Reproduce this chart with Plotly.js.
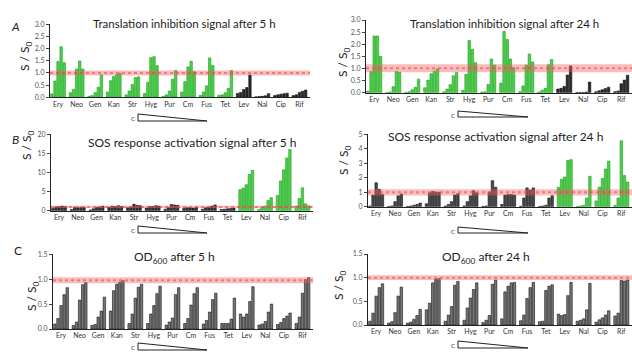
<!DOCTYPE html>
<html><head><meta charset="utf-8">
<script src="https://cdn.plot.ly/plotly-3.0.1.min.js"></script>
<style>html,body{margin:0;padding:0;background:#fff}</style>
</head><body><div id="chart" style="width:632px;height:355px"></div>
<script>
const groups = ['Ery','Neo','Gen','Kan','Str','Hyg','Pur','Cm','Fus','Tet','Lev','Nal','Cip','Rif'];

const transl5h = [
 [0.14,0.67,1.47,2.08,1.42],[0.19,0.33,1.16,1.49,1.16],[0.04,0.07,0.19,0.41,0.92],
 [0.22,0.68,0.85,0.93,0.99],[0.10,0.26,0.53,0.81,0.84],[0.16,0.62,1.63,1.67,1.30],
 [0.04,0.10,0.26,0.74,1.10],[0.22,0.64,1.25,1.48,1.05],[0.08,0.22,0.47,1.62,1.31],
 [0.08,0.10,0.19,0.37,1.10],[0.16,0.20,0.32,0.40,0.92],[0.02,0.03,0.04,0.06,0.15],
 [0.07,0.10,0.13,0.15,0.17],[0.07,0.10,0.20,0.25,0.30]];
const transl24h = [
 [0.07,0.87,2.34,2.34,1.50],[0.01,0.03,0.25,0.87,0.84],[0.01,0.04,0.12,0.22,0.56],
 [0.20,0.52,0.78,0.88,0.98],[0.04,0.15,0.33,0.70,0.83],[0.10,0.76,2.15,1.79,1.24],
 [0.03,0.04,0.34,1.39,1.14],[0.40,2.53,2.20,1.39,1.03],[0.04,0.28,1.14,1.60,1.27],
 [0.03,0.10,0.18,1.15,1.37],[0.15,0.18,0.26,0.73,1.10],[0.01,0.01,0.01,0.03,0.44],
 [0.04,0.08,0.12,0.17,0.23],[0.04,0.07,0.37,0.52,0.72]];
const sos5h = [
 [0.6,1.0,1.1,1.2,1.1],[0.3,0.9,0.8,0.9,0.9],[0.2,0.5,0.9,1.0,1.2],
 [0.9,1.2,1.1,1.3,1.1],[0.8,1.0,1.7,1.4,1.3],[0.7,1.1,1.1,1.3,1.2],
 [0.4,0.8,1.6,1.5,1.4],[0.6,0.8,0.8,0.7,0.9],[0.4,0.8,0.9,1.2,1.5],
 [0.3,0.4,0.5,0.6,0.7],[5.5,5.9,6.8,9.5,10.6],[0.3,0.8,1.2,2.7,3.4],
 [4.0,7.8,10.7,13.8,16.0],[1.2,3.2,6.0,1.8,1.3]];
const sos24h = [
 [0.05,0.8,1.65,1.2,0.85],[0.02,0.05,0.35,0.75,0.88],[0.02,0.05,0.1,0.15,0.25],
 [0.2,0.95,1.05,1.0,1.0],[0.05,0.15,0.35,0.8,0.9],[0.05,0.35,0.75,1.1,0.95],
 [0.03,0.05,1.0,1.8,1.35],[0.15,0.8,0.85,0.85,0.8],[0.03,0.6,1.3,1.15,1.3],
 [0.02,0.05,0.1,0.6,0.75],[1.35,1.9,2.05,3.2,3.25],[0.02,0.05,0.1,0.6,2.1],
 [0.4,1.35,1.95,2.6,3.15],[0.1,0.6,4.55,2.15,1.7]];
const od5h = [
 [0.10,0.21,0.47,0.69,0.83],[0.07,0.14,0.58,0.89,0.93],[0.07,0.09,0.24,0.36,0.64],
 [0.36,0.77,0.90,0.94,0.97],[0.11,0.30,0.62,0.84,0.90],[0.11,0.30,0.47,0.71,0.86],
 [0.08,0.14,0.22,0.69,0.83],[0.11,0.21,0.48,0.71,0.83],[0.10,0.17,0.34,0.59,0.72],
 [0.11,0.11,0.11,0.20,0.62],[0.30,0.24,0.30,0.55,0.85],[0.08,0.10,0.15,0.34,0.50],
 [0.09,0.13,0.21,0.26,0.32],[0.11,0.24,0.72,0.99,1.03]];
const od24h = [
 [0.08,0.25,0.61,0.79,0.87],[0.04,0.07,0.26,0.61,0.80],[0.04,0.06,0.12,0.20,0.33],
 [0.32,0.46,0.89,0.97,0.98],[0.08,0.21,0.39,0.84,0.92],[0.10,0.36,0.57,0.75,0.89],
 [0.05,0.10,0.20,0.86,0.95],[0.13,0.70,0.82,0.89,0.90],[0.09,0.21,0.56,0.79,0.90],
 [0.07,0.08,0.73,0.82,0.85],[0.23,0.20,0.22,0.62,0.90],[0.08,0.10,0.13,0.32,0.88],
 [0.06,0.11,0.15,0.21,0.30],[0.19,0.25,0.94,0.93,0.95]];

const W = 632, H = 355;
const PX = p => p / W, PY = p => 1 - p / H;
const SLOT = 6;

const GREEN = '#4fcf4f', GREENL = '#17a017';
const panels = [
  {data: transl5h, green: g => g < 10, dark: '#2a2a2a', xd: [50, 310], yd: [24.3, 97.3], yr: [0, 3], dt: 0.5, fmt: '.1f', band: [0.9, 1.1]},
  {data: transl24h, green: g => g < 10, dark: '#2a2a2a', xd: [366, 632], yd: [20, 92.7], yr: [0, 3], dt: 0.5, fmt: '.1f', band: [0.84, 1.17]},
  {data: sos5h, green: g => g >= 10, dark: '#333333', xd: [51, 313], yd: [134.3, 210.7], yr: [0, 20], dt: 5, fmt: 'd', band: [0.7, 1.3]},
  {data: sos24h, green: g => g >= 10, dark: '#4a4a4a', xd: [368, 632], yd: [134.3, 206.7], yr: [0, 5], dt: 1, fmt: 'd', band: [0.78, 1.2]},
  {data: od5h, green: g => false, dark: '#777777', xd: [53, 313], yd: [254.3, 329], yr: [0, 1.5], dt: 0.5, fmt: '.1f', band: [0.92, 1.04]},
  {data: od24h, green: g => false, dark: '#777777', xd: [368, 632], yd: [254, 325], yr: [0, 1.5], dt: 0.5, fmt: '.1f', band: [0.95, 1.05]}
];

const traces = [];
const layout = {
  width: W, height: H, margin: {l: 0, r: 0, t: 0, b: 0},
  paper_bgcolor: '#fff', plot_bgcolor: 'rgba(0,0,0,0)', showlegend: false,
  font: {family: 'Lato, "Open Sans", sans-serif', color: '#222'},
  shapes: [], annotations: []
};

panels.forEach((p, k) => {
  const n = k === 0 ? '' : String(k + 1);
  const xs = [], ys = [], fill = [], line = [];
  p.data.forEach((vals, g) => vals.forEach((v, i) => {
    xs.push(g * SLOT + i); ys.push(v);
    const gr = p.green(g);
    fill.push(gr ? GREEN : p.dark);
    line.push(gr ? GREENL : '#111');
  }));
  traces.push({type: 'bar', x: xs, y: ys, xaxis: 'x' + n, yaxis: 'y' + n, width: 0.78,
    marker: {color: fill, line: {color: line, width: 0.6}}, hoverinfo: 'skip'});
  layout['xaxis' + n] = {
    domain: [PX(p.xd[0]), PX(p.xd[1])], anchor: 'y' + n,
    range: [-0.6, groups.length * SLOT - 0.6],
    tickvals: groups.map((_, g) => g * SLOT + 2), ticktext: groups,
    ticks: '', showline: true, linecolor: '#222', linewidth: 1,
    showgrid: false, zeroline: false, tickfont: {size: 7, color: '#333'}, fixedrange: true
  };
  layout['yaxis' + n] = {
    domain: [PY(p.yd[1]), PY(p.yd[0])], anchor: 'x' + n,
    range: p.yr, dtick: p.dt, tick0: 0, tickformat: p.fmt,
    ticks: 'outside', ticklen: 3, tickwidth: 1, tickcolor: '#444',
    showline: true, linecolor: '#222', linewidth: 1,
    showgrid: false, zeroline: false, tickfont: {size: 7, color: '#555'}, fixedrange: true
  };
  layout.shapes.push({type: 'rect', xref: 'x' + n + ' domain', yref: 'y' + n, x0: 0, x1: 1,
    y0: p.band[0], y1: p.band[1], fillcolor: 'rgba(238,95,95,0.42)', line: {width: 0}, layer: 'above'});
  layout.shapes.push({type: 'line', xref: 'x' + n + ' domain', yref: 'y' + n, x0: 0, x1: 1,
    y0: (p.band[0] + p.band[1]) / 2, y1: (p.band[0] + p.band[1]) / 2,
    line: {color: 'rgba(225,70,70,0.55)', width: 2, dash: 'dot'}, layer: 'above'});
});

// titles
const titles = [
  ['Translation inhibition signal after 5 h', 184, 23, 11.5],
  ['Translation inhibition signal after 24 h', 504, 23, 11.5],
  ['SOS response activation signal after 5 h', 192, 142, 12],
  ['SOS response activation signal after 24 h', 495, 137, 12],
  ['OD<sub>600</sub> after 5 h', 174, 257, 12],
  ['OD<sub>600</sub> after 24 h', 486, 257, 12]
];
titles.forEach(t => layout.annotations.push({text: t[0], x: PX(t[1]), y: PY(t[2]), xref: 'paper', yref: 'paper',
  xanchor: 'center', yanchor: 'middle', showarrow: false, font: {size: t[3], color: '#222'}}));

// y titles
[[25, 56], [344, 62], [27, 145], [344, 160], [32, 296], [339, 285]].forEach(c =>
  layout.annotations.push({text: 'S / S<sub>0</sub>', x: PX(c[0]), y: PY(c[1]), xref: 'paper', yref: 'paper',
    textangle: -90, showarrow: false, xanchor: 'center', yanchor: 'middle', font: {size: 12, color: '#222'}}));

// panel letters
[['A', 15, 26], ['B', 15, 140], ['C', 18, 251]].forEach(c =>
  layout.annotations.push({text: c[0] === 'C' ? 'C' : '<i>' + c[0] + '</i>', x: PX(c[1]), y: PY(c[2]), xref: 'paper', yref: 'paper',
    showarrow: false, xanchor: 'center', yanchor: 'middle', font: {size: 12, color: '#222'}}));

// concentration wedges
[[138, 207, 114, 121], [458, 528, 111, 117], [138, 207, 226, 233], [458, 528, 227, 233], [138, 207, 343, 350], [458, 528, 341, 348]].forEach(w => {
  layout.shapes.push({type: 'path', xref: 'paper', yref: 'paper',
    path: `M ${PX(w[0])} ${PY(w[2])} L ${PX(w[0])} ${PY(w[3])} L ${PX(w[1])} ${PY(w[3])} Z`,
    line: {color: '#222', width: 1}, fillcolor: '#fff'});
  layout.annotations.push({text: 'C', x: PX(w[0] - 5), y: PY((w[2] + w[3]) / 2 + 1), xref: 'paper', yref: 'paper',
    showarrow: false, xanchor: 'center', yanchor: 'middle', font: {size: 6, color: '#222'}});
});

Plotly.newPlot('chart', traces, layout, {staticPlot: true, displayModeBar: false});
</script></body></html>
